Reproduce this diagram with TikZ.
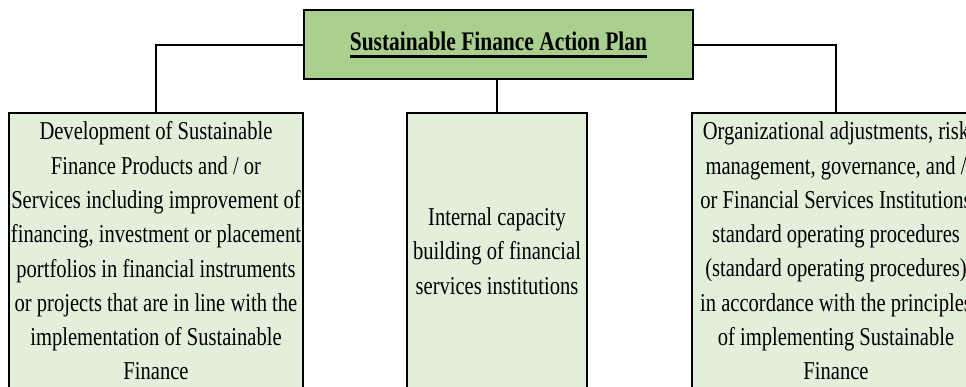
\documentclass[tikz,border=0pt]{standalone}
\usepackage{fontspec}
\setmainfont{Liberation Serif}[FakeStretch=0.8]
\definecolor{topgreen}{HTML}{A9D08E}
\definecolor{lightgreen}{HTML}{E2EFDA}
\newcommand\thickul[1]{\setbox0\hbox{#1}\rlap{\rule[-7.5pt]{\wd0}{3pt}}\box0}
\tikzset{
  titlebox/.style={draw=black, line width=2.8pt, fill=topgreen, inner sep=0pt,
    minimum width=389pt, minimum height=69pt,
    font={\fontsize{26.8}{30}\selectfont\bfseries}},
  itembox/.style={draw=black, line width=2.6pt, fill=lightgreen, inner sep=0pt,
    align=center, font={\fontsize{25.7}{34.3}\selectfont}},
  link/.style={draw=black, line width=2pt}
}
\begin{document}
\begin{tikzpicture}[x=1pt, y=-1pt]
\useasboundingbox (0,0) rectangle (966,386);
\clip (0,0) rectangle (966,386);
\fill[white] (0,0) rectangle (966,386);
\node[titlebox] (top) at (498.5,44.5) {\thickul{Sustainable Finance Action Plan}};
\node[itembox, minimum width=294pt, minimum height=276pt] (left) at (156,251)
  {Development of Sustainable\\Finance Products and / or\\Services including improvement of\\financing, investment or placement\\portfolios in financial instruments\\or projects that are in line with the\\implementation of Sustainable\\Finance};
\node[itembox, minimum width=180pt, minimum height=276pt] (mid) at (497,251)
  {Internal capacity\\building of financial\\services institutions};
\node[itembox, minimum width=288pt, minimum height=276pt] (right) at (836,251)
  {Organizational adjustments, risk\\management, governance, and /\\or Financial Services Institutions\\standard operating procedures\\(standard operating procedures)\\in accordance with the principles\\of implementing Sustainable\\Finance};
\draw[link] (top.west) -| (left.north);
\draw[link] (top.east) -| (right.north);
\draw[link] (top.south -| mid.north) -- (mid.north);
\end{tikzpicture}
\end{document}
